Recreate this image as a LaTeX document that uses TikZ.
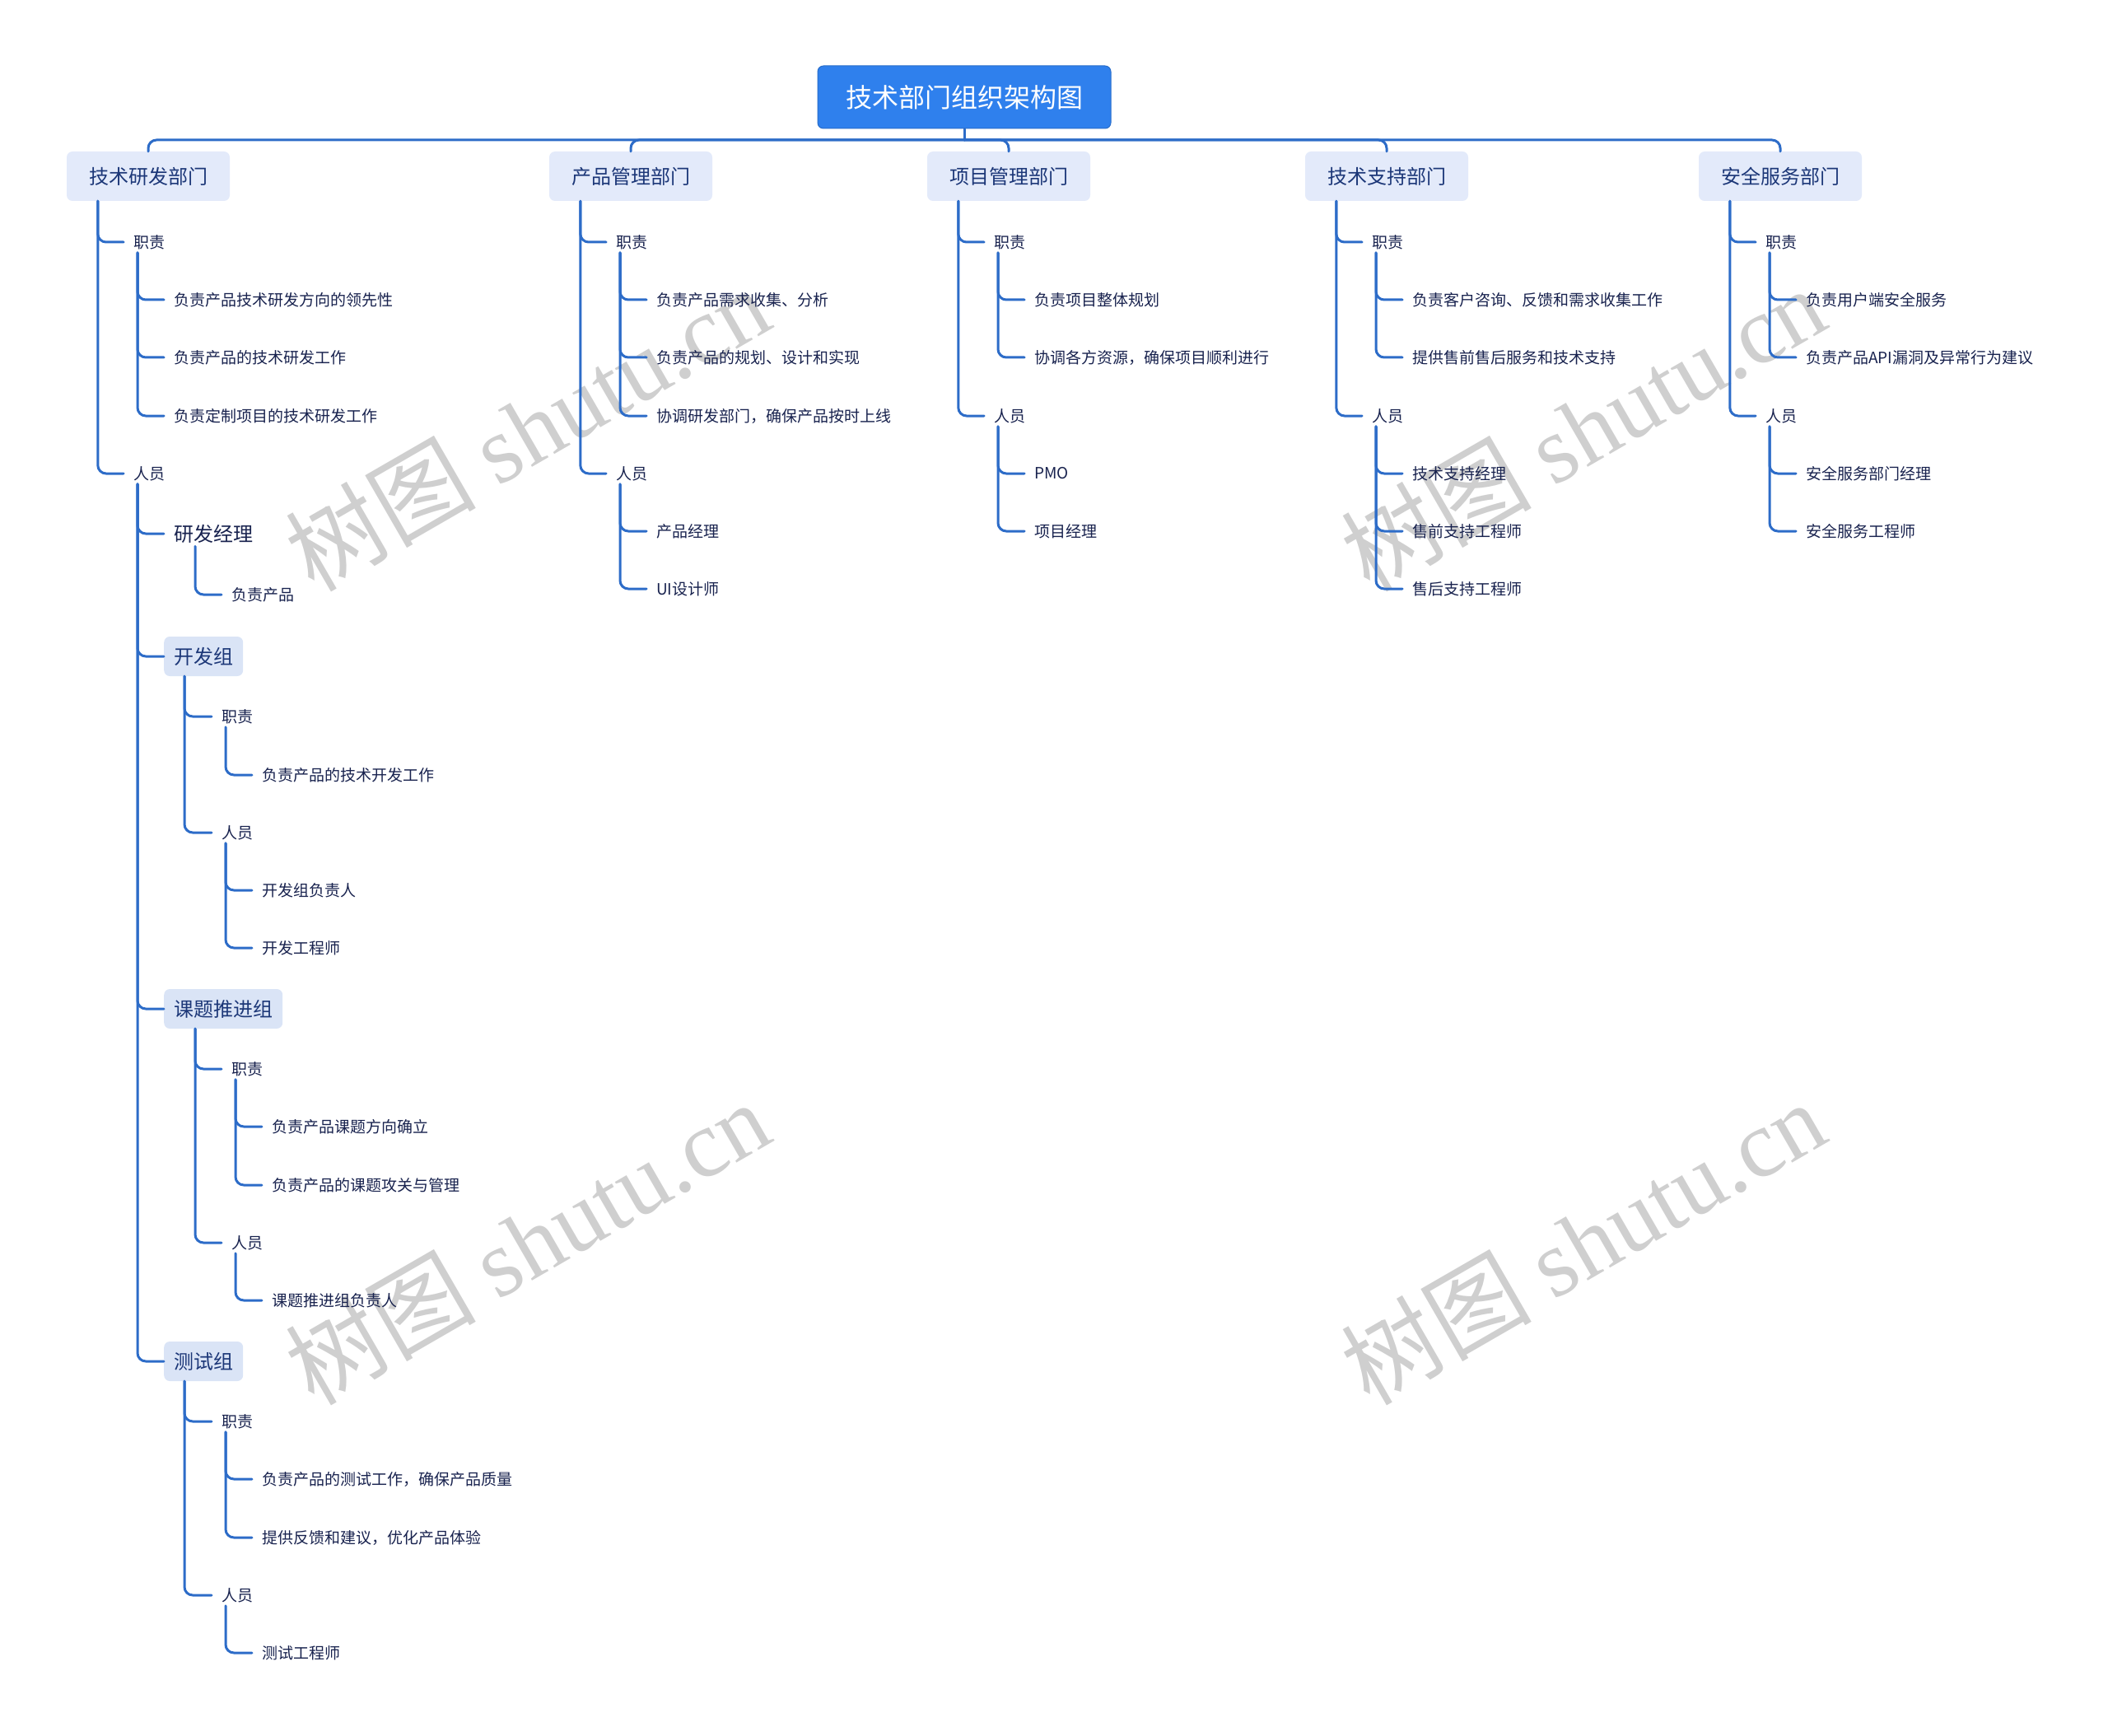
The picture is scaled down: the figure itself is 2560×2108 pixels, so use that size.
\documentclass[tikz,border=0pt]{standalone}
\usepackage{fontspec}
\setmainfont{Noto Sans CJK SC}
\newfontfamily\wmlatin{Liberation Serif}

\definecolor{rootblue}{RGB}{47,128,237}
\definecolor{linkblue}{RGB}{45,108,200}
\definecolor{deptfill}{RGB}{227,234,250}
\definecolor{grpfill}{RGB}{218,228,246}
\definecolor{deptink}{RGB}{28,55,120}
\definecolor{itemink}{RGB}{24,34,78}

\tikzset{
  root/.style={fill=rootblue, draw=rootblue!85!black, line width=1pt, rounded corners=7pt,
    text=white, font=\fontsize{32}{38}\selectfont, minimum width=356pt, minimum height=76pt},
  dept/.style={fill=deptfill, rounded corners=7pt, text=deptink,
    font=\fontsize{24}{28}\selectfont, inner xsep=27pt, minimum height=60pt},
  grp/.style={fill=grpfill, rounded corners=7pt, text=deptink, anchor=west,
    font=\fontsize{24}{28}\selectfont, inner xsep=12pt, minimum height=48pt},
  mgr/.style={text=itemink, font=\fontsize{24}{28}\selectfont, inner xsep=12pt, inner ysep=4pt, anchor=west},
  item/.style={text=itemink, font=\fontsize{19}{22}\selectfont, inner xsep=12pt, inner ysep=4pt, anchor=west},
  link/.style={draw=linkblue, line width=3pt, rounded corners=10pt, line cap=round},
  wmark/.style={text=black!19, rotate=30, font=\fontsize{116}{126}\selectfont}
}

\begin{document}
\begin{tikzpicture}[x=1pt, y=-1pt]
  \useasboundingbox (0,0) rectangle (2560,2108);

  % --- Watermarks ---
  \node[wmark] (WM1) at (640,520) {树图 {\wmlatin shutu.cn}};
  \node[wmark] (WM2) at (1922,520) {树图 {\wmlatin shutu.cn}};
  \node[wmark] (WM3) at (640,1508) {树图 {\wmlatin shutu.cn}};
  \node[wmark] (WM4) at (1922,1508) {树图 {\wmlatin shutu.cn}};

  % --- Root and departments ---
  \node[root] (Top) at (1171,118) {技术部门组织架构图};
  \coordinate (Bus) at (1171,170);

  \node[dept] (D1) at (180,214) {技术研发部门};
  \node[dept] (D2) at (766,214) {产品管理部门};
  \node[dept] (D3) at (1225,214) {项目管理部门};
  \node[dept] (D4) at (1684,214) {技术支持部门};
  \node[dept] (D5) at (2162,214) {安全服务部门};

  % --- Column 1: 技术研发部门 ---
  \node[item] (D1_duty) at (150,294) {职责};
  \node[item] (D1_duty1) at (199,364) {负责产品技术研发方向的领先性};
  \node[item] (D1_duty2) at (199,434) {负责产品的技术研发工作};
  \node[item] (D1_duty3) at (199,505) {负责定制项目的技术研发工作};
  \node[item] (D1_staff) at (150,575) {人员};
  \node[mgr] (D1_mgr) at (199,648) {研发经理};
  \node[item] (D1_mgr1) at (269,722) {负责产品};

  \node[grp] (G1) at (199,797) {开发组};
  \node[item] (G1_duty) at (257,870) {职责};
  \node[item] (G1_duty1) at (306,941) {负责产品的技术开发工作};
  \node[item] (G1_staff) at (257,1011) {人员};
  \node[item] (G1_staff1) at (306,1081) {开发组负责人};
  \node[item] (G1_staff2) at (306,1151) {开发工程师};

  \node[grp] (G2) at (199,1225) {课题推进组};
  \node[item] (G2_duty) at (269,1298) {职责};
  \node[item] (G2_duty1) at (318,1368) {负责产品课题方向确立};
  \node[item] (G2_duty2) at (318,1439) {负责产品的课题攻关与管理};
  \node[item] (G2_staff) at (269,1509) {人员};
  \node[item] (G2_staff1) at (318,1579) {课题推进组负责人};

  \node[grp] (G3) at (199,1653) {测试组};
  \node[item] (G3_duty) at (257,1726) {职责};
  \node[item] (G3_duty1) at (306,1796) {负责产品的测试工作，确保产品质量};
  \node[item] (G3_duty2) at (306,1867) {提供反馈和建议，优化产品体验};
  \node[item] (G3_staff) at (257,1937) {人员};
  \node[item] (G3_staff1) at (306,2007) {测试工程师};

  % --- Column 2: 产品管理部门 ---
  \node[item] (D2_duty) at (736,294) {职责};
  \node[item] (D2_duty1) at (785,364) {负责产品需求收集、分析};
  \node[item] (D2_duty2) at (785,434) {负责产品的规划、设计和实现};
  \node[item] (D2_duty3) at (785,505) {协调研发部门，确保产品按时上线};
  \node[item] (D2_staff) at (736,575) {人员};
  \node[item] (D2_staff1) at (785,645) {产品经理};
  \node[item] (D2_staff2) at (785,715) {UI设计师};

  % --- Column 3: 项目管理部门 ---
  \node[item] (D3_duty) at (1195,294) {职责};
  \node[item] (D3_duty1) at (1244,364) {负责项目整体规划};
  \node[item] (D3_duty2) at (1244,434) {协调各方资源，确保项目顺利进行};
  \node[item] (D3_staff) at (1195,505) {人员};
  \node[item] (D3_staff1) at (1244,575) {PMO};
  \node[item] (D3_staff2) at (1244,645) {项目经理};

  % --- Column 4: 技术支持部门 ---
  \node[item] (D4_duty) at (1654,294) {职责};
  \node[item] (D4_duty1) at (1703,364) {负责客户咨询、反馈和需求收集工作};
  \node[item] (D4_duty2) at (1703,434) {提供售前售后服务和技术支持};
  \node[item] (D4_staff) at (1654,505) {人员};
  \node[item] (D4_staff1) at (1703,575) {技术支持经理};
  \node[item] (D4_staff2) at (1703,645) {售前支持工程师};
  \node[item] (D4_staff3) at (1703,715) {售后支持工程师};

  % --- Column 5: 安全服务部门 ---
  \node[item] (D5_duty) at (2132,294) {职责};
  \node[item] (D5_duty1) at (2181,364) {负责用户端安全服务};
  \node[item] (D5_duty2) at (2181,434) {负责产品API漏洞及异常行为建议};
  \node[item] (D5_staff) at (2132,505) {人员};
  \node[item] (D5_staff1) at (2181,575) {安全服务部门经理};
  \node[item] (D5_staff2) at (2181,645) {安全服务工程师};

  % --- Connectors: root to departments ---
  \draw[link] (Top.south) -- (Bus);
  \draw[link] (Bus) -| (D1.north);
  \draw[link] (Bus) -| (D2.north);
  \draw[link] (Bus) -| (D3.north);
  \draw[link] (Bus) -| (D4.north);
  \draw[link] (Bus) -| (D5.north);

  % --- Connectors: column 1 ---
  \draw[link] ([xshift=38pt]D1.south west) |- (D1_duty.west);
  \draw[link] ([xshift=38pt]D1.south west) |- (D1_staff.west);
  \draw[link] ([xshift=17pt]D1_duty.south west) |- (D1_duty1.west);
  \draw[link] ([xshift=17pt]D1_duty.south west) |- (D1_duty2.west);
  \draw[link] ([xshift=17pt]D1_duty.south west) |- (D1_duty3.west);
  \draw[link] ([xshift=17pt]D1_staff.south west) |- (D1_mgr.west);
  \draw[link] ([xshift=17pt]D1_staff.south west) |- (G1.west);
  \draw[link] ([xshift=17pt]D1_staff.south west) |- (G2.west);
  \draw[link] ([xshift=17pt]D1_staff.south west) |- (G3.west);
  \draw[link] ([xshift=38pt]D1_mgr.south west) |- (D1_mgr1.west);
  \draw[link] ([xshift=25pt]G1.south west) |- (G1_duty.west);
  \draw[link] ([xshift=25pt]G1.south west) |- (G1_staff.west);
  \draw[link] ([xshift=17pt]G1_duty.south west) |- (G1_duty1.west);
  \draw[link] ([xshift=17pt]G1_staff.south west) |- (G1_staff1.west);
  \draw[link] ([xshift=17pt]G1_staff.south west) |- (G1_staff2.west);
  \draw[link] ([xshift=38pt]G2.south west) |- (G2_duty.west);
  \draw[link] ([xshift=38pt]G2.south west) |- (G2_staff.west);
  \draw[link] ([xshift=17pt]G2_duty.south west) |- (G2_duty1.west);
  \draw[link] ([xshift=17pt]G2_duty.south west) |- (G2_duty2.west);
  \draw[link] ([xshift=17pt]G2_staff.south west) |- (G2_staff1.west);
  \draw[link] ([xshift=25pt]G3.south west) |- (G3_duty.west);
  \draw[link] ([xshift=25pt]G3.south west) |- (G3_staff.west);
  \draw[link] ([xshift=17pt]G3_duty.south west) |- (G3_duty1.west);
  \draw[link] ([xshift=17pt]G3_duty.south west) |- (G3_duty2.west);
  \draw[link] ([xshift=17pt]G3_staff.south west) |- (G3_staff1.west);

  % --- Connectors: column 2 ---
  \draw[link] ([xshift=38pt]D2.south west) |- (D2_duty.west);
  \draw[link] ([xshift=38pt]D2.south west) |- (D2_staff.west);
  \draw[link] ([xshift=17pt]D2_duty.south west) |- (D2_duty1.west);
  \draw[link] ([xshift=17pt]D2_duty.south west) |- (D2_duty2.west);
  \draw[link] ([xshift=17pt]D2_duty.south west) |- (D2_duty3.west);
  \draw[link] ([xshift=17pt]D2_staff.south west) |- (D2_staff1.west);
  \draw[link] ([xshift=17pt]D2_staff.south west) |- (D2_staff2.west);

  % --- Connectors: column 3 ---
  \draw[link] ([xshift=38pt]D3.south west) |- (D3_duty.west);
  \draw[link] ([xshift=38pt]D3.south west) |- (D3_staff.west);
  \draw[link] ([xshift=17pt]D3_duty.south west) |- (D3_duty1.west);
  \draw[link] ([xshift=17pt]D3_duty.south west) |- (D3_duty2.west);
  \draw[link] ([xshift=17pt]D3_staff.south west) |- (D3_staff1.west);
  \draw[link] ([xshift=17pt]D3_staff.south west) |- (D3_staff2.west);

  % --- Connectors: column 4 ---
  \draw[link] ([xshift=38pt]D4.south west) |- (D4_duty.west);
  \draw[link] ([xshift=38pt]D4.south west) |- (D4_staff.west);
  \draw[link] ([xshift=17pt]D4_duty.south west) |- (D4_duty1.west);
  \draw[link] ([xshift=17pt]D4_duty.south west) |- (D4_duty2.west);
  \draw[link] ([xshift=17pt]D4_staff.south west) |- (D4_staff1.west);
  \draw[link] ([xshift=17pt]D4_staff.south west) |- (D4_staff2.west);
  \draw[link] ([xshift=17pt]D4_staff.south west) |- (D4_staff3.west);

  % --- Connectors: column 5 ---
  \draw[link] ([xshift=38pt]D5.south west) |- (D5_duty.west);
  \draw[link] ([xshift=38pt]D5.south west) |- (D5_staff.west);
  \draw[link] ([xshift=17pt]D5_duty.south west) |- (D5_duty1.west);
  \draw[link] ([xshift=17pt]D5_duty.south west) |- (D5_duty2.west);
  \draw[link] ([xshift=17pt]D5_staff.south west) |- (D5_staff1.west);
  \draw[link] ([xshift=17pt]D5_staff.south west) |- (D5_staff2.west);

\end{tikzpicture}
\end{document}
